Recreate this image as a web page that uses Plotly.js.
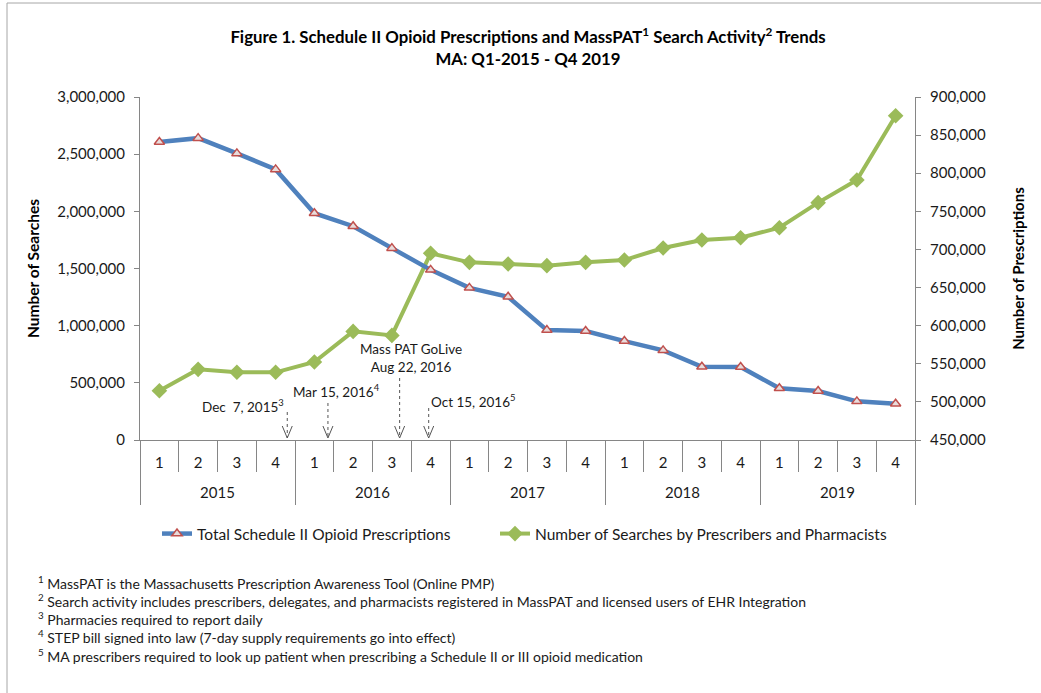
<!DOCTYPE html>
<html><head><meta charset="utf-8">
<script src="https://cdn.plot.ly/plotly-3.0.1.min.js"></script>
<style>html,body{margin:0;padding:0;background:#fff}#chart{width:1041px;height:693px}</style>
</head><body><div id="chart"></div>
<script>
// ---- data ----
const years = ['2015', '2016', '2017', '2018', '2019'];
const quarters = ['1', '2', '3', '4'];
const prescriptions = [841000, 846000, 826000, 805000, 747500, 730500, 701700, 673200, 649600, 637800,
                       594200, 592900, 579800, 567600, 546100, 545700, 517800, 514200, 500700, 497600];
const searches = [431000, 618000, 592000, 592000, 682000, 950000, 915000, 1633000, 1554000, 1539000,
                  1525000, 1554000, 1574000, 1679000, 1749000, 1769000, 1857000, 2076000, 2274000, 2836000];
const seriesNames = ['Total Schedule II Opioid Prescriptions', 'Number of Searches by Prescribers and Pharmacists'];
const eventLabels = ['Dec  7, 2015<sup>3</sup>', 'Mar 15, 2016<sup>4</sup>', 'Mass PAT GoLive<br>Aug 22, 2016', 'Oct 15, 2016<sup>5</sup>'];
const eventPos = [3.3, 4.35, 6.2, 6.95]; // position along the quarter index
const footnotes = [
  '<sup>1</sup> MassPAT is the Massachusetts Prescription Awareness Tool (Online PMP)',
  '<sup>2</sup> Search activity includes prescribers, delegates, and pharmacists registered in MassPAT and licensed users of EHR Integration',
  '<sup>3</sup> Pharmacies required to report daily',
  '<sup>4</sup> STEP bill signed into law (7-day supply requirements go into effect)',
  '<sup>5</sup> MA prescribers required to look up patient when prescribing a Schedule II or III opioid medication'
];

// ---- build ----
const qIdx = [], qText = [];
years.forEach((y, yi) => quarters.forEach((q, qi) => { qIdx.push(yi * quarters.length + qi); qText.push(q); }));
const nCat = qIdx.length;
const qBounds = [];
for (let i = 0; i <= nCat; i++) qBounds.push(i - 0.5);
const yCenters = years.map((y, yi) => yi * quarters.length + (quarters.length - 1) / 2);
const yBounds = [];
for (let i = 0; i <= years.length; i++) yBounds.push(i * quarters.length - 0.5);

const FONT = 'Lato, "Liberation Sans", sans-serif';
const TXT = '#1a1a1a';
const AX = '#868686';

const traces = [
  {
    x: qIdx, y: prescriptions, name: seriesNames[0], xaxis: 'x', yaxis: 'y2',
    type: 'scatter', mode: 'lines+markers', legend: 'legend', showlegend: true,
    line: {color: '#4F81BD', width: 4.5},
    marker: {symbol: 'triangle-up', size: 9, color: '#E8DCDC', line: {color: '#C0504D', width: 1.5}}
  },
  {
    x: qIdx, y: searches, name: seriesNames[1], xaxis: 'x', yaxis: 'y',
    type: 'scatter', mode: 'lines+markers', legend: 'legend2', showlegend: true,
    line: {color: '#9BBB59', width: 4},
    marker: {symbol: 'diamond', size: 12, color: '#9BBB59'}
  },
  // empty helper so that the year axis (x2) is drawn
  {
    x: yCenters, y: yCenters.map(() => null), xaxis: 'x2', yaxis: 'y',
    type: 'scatter', mode: 'markers', showlegend: false, hoverinfo: 'skip'
  }
];

const L = 140, R = 915, T = 97, B = 440, W = 1041, H = 693;
const px2x = p => (p - L) / (R - L);
const py2y = p => (B - p) / (B - T);

const annotations = [];
const shapes = [];
const evText = [
  {xa: 'right', px: 286, py: 406},
  {xa: 'left', px: 291, py: 391},
  {xa: 'center', px: 411, py: 358},
  {xa: 'left', px: 429, py: 401}
];
const evTop = [412, 403, 378, 408];
eventLabels.forEach((t, i) => {
  annotations.push({
    xref: 'paper', yref: 'paper', x: px2x(evText[i].px), y: py2y(evText[i].py),
    xanchor: evText[i].xa, yanchor: 'middle', text: t, showarrow: false, align: 'center',
    font: {family: FONT, size: 13.5, color: TXT}
  });
  shapes.push({type: 'line', xref: 'x', yref: 'paper', x0: eventPos[i], x1: eventPos[i], y0: py2y(evTop[i]), y1: py2y(438),
    line: {color: '#555', width: 1, dash: 'dot'}});
  shapes.push({type: 'path', xref: 'x', yref: 'paper', xsizemode: 'pixel', ysizemode: 'pixel',
    xanchor: eventPos[i], yanchor: py2y(438), path: 'M -5 12 L 0 0 L 5 12',
    line: {color: '#555', width: 1}});
});
footnotes.forEach((t, i) => {
  annotations.push({
    xref: 'paper', yref: 'paper', x: px2x(36), y: py2y(582 + i * 18.3),
    xanchor: 'left', yanchor: 'middle', text: t, showarrow: false, align: 'left',
    font: {family: FONT, size: 14, color: TXT}
  });
});
shapes.push({type: 'rect', xref: 'paper', yref: 'paper', x0: px2x(7), x1: px2x(1048), y0: py2y(3), y1: py2y(700),
  line: {color: '#A6A6A6', width: 1}, fillcolor: 'rgba(0,0,0,0)', layer: 'below'});

const layout = {
  width: W, height: H,
  margin: {l: L, r: W - R, t: T, b: H - B},
  paper_bgcolor: '#fff', plot_bgcolor: '#fff',
  showlegend: true,
  font: {family: FONT, size: 14, color: TXT},
  title: {
    text: 'Figure 1. Schedule II Opioid Prescriptions and MassPAT<sup>1</sup> Search Activity<sup>2</sup> Trends<br>MA: Q1-2015 - Q4 2019',
    font: {family: FONT, size: 16.8, color: '#000', weight: 'bold'},
    x: 528 / W, xanchor: 'center', y: 1 - 43 / H, yanchor: 'top', yref: 'container'
  },
  xaxis: {
    range: [-0.5, nCat - 0.5], showgrid: false, zeroline: false,
    tickmode: 'array', tickvals: qIdx, ticktext: qText, ticks: '',
    showline: true, linecolor: AX, linewidth: 1,
    ticklabelstandoff: 9,
    minor: {tickmode: 'array', tickvals: qBounds, ticks: 'outside', ticklen: 31, tickcolor: AX, tickwidth: 1, showgrid: false},
    tickfont: {family: FONT, size: 15, color: TXT}
  },
  xaxis2: {
    overlaying: 'x', anchor: 'y', side: 'bottom',
    range: [-0.5, nCat - 0.5], showgrid: false, zeroline: false, showline: false,
    tickmode: 'array', tickvals: yCenters, ticktext: years, ticks: '',
    ticklabelstandoff: 42,
    minor: {tickmode: 'array', tickvals: yBounds, ticks: 'outside', ticklen: 64, tickcolor: AX, tickwidth: 1, showgrid: false},
    tickfont: {family: FONT, size: 15, color: TXT}
  },
  yaxis: {
    range: [0, 3000000], dtick: 500000, tickformat: ',d', showgrid: false, zeroline: false,
    showline: true, linecolor: AX, ticks: 'outside', ticklen: 5, tickcolor: AX,
    ticklabelstandoff: 6,
    tickfont: {family: FONT, size: 15, color: TXT},
    title: {text: 'Number of Searches', font: {family: FONT, size: 15.5, color: '#000', weight: 'bold'}, standoff: 13}
  },
  yaxis2: {
    range: [450000, 900000], dtick: 50000, tickformat: ',d', overlaying: 'y', side: 'right',
    showgrid: false, zeroline: false,
    showline: true, linecolor: AX, ticks: 'outside', ticklen: 5, tickcolor: AX,
    ticklabelstandoff: 6,
    tickfont: {family: FONT, size: 15, color: TXT},
    title: {text: 'Number of Prescriptions', font: {family: FONT, size: 15, color: '#000', weight: 'bold'}, standoff: 28}
  },
  legend: {orientation: 'h', x: px2x(157), xanchor: 'left', y: py2y(534), yanchor: 'middle',
    font: {family: FONT, size: 15.5, color: TXT}, bgcolor: 'rgba(0,0,0,0)'},
  legend2: {orientation: 'h', x: px2x(495), xanchor: 'left', y: py2y(534), yanchor: 'middle',
    font: {family: FONT, size: 15.5, color: TXT}, bgcolor: 'rgba(0,0,0,0)'},
  annotations: annotations,
  shapes: shapes
};

Plotly.newPlot('chart', traces, layout, {displayModeBar: false, staticPlot: true});
</script>
</body></html>
